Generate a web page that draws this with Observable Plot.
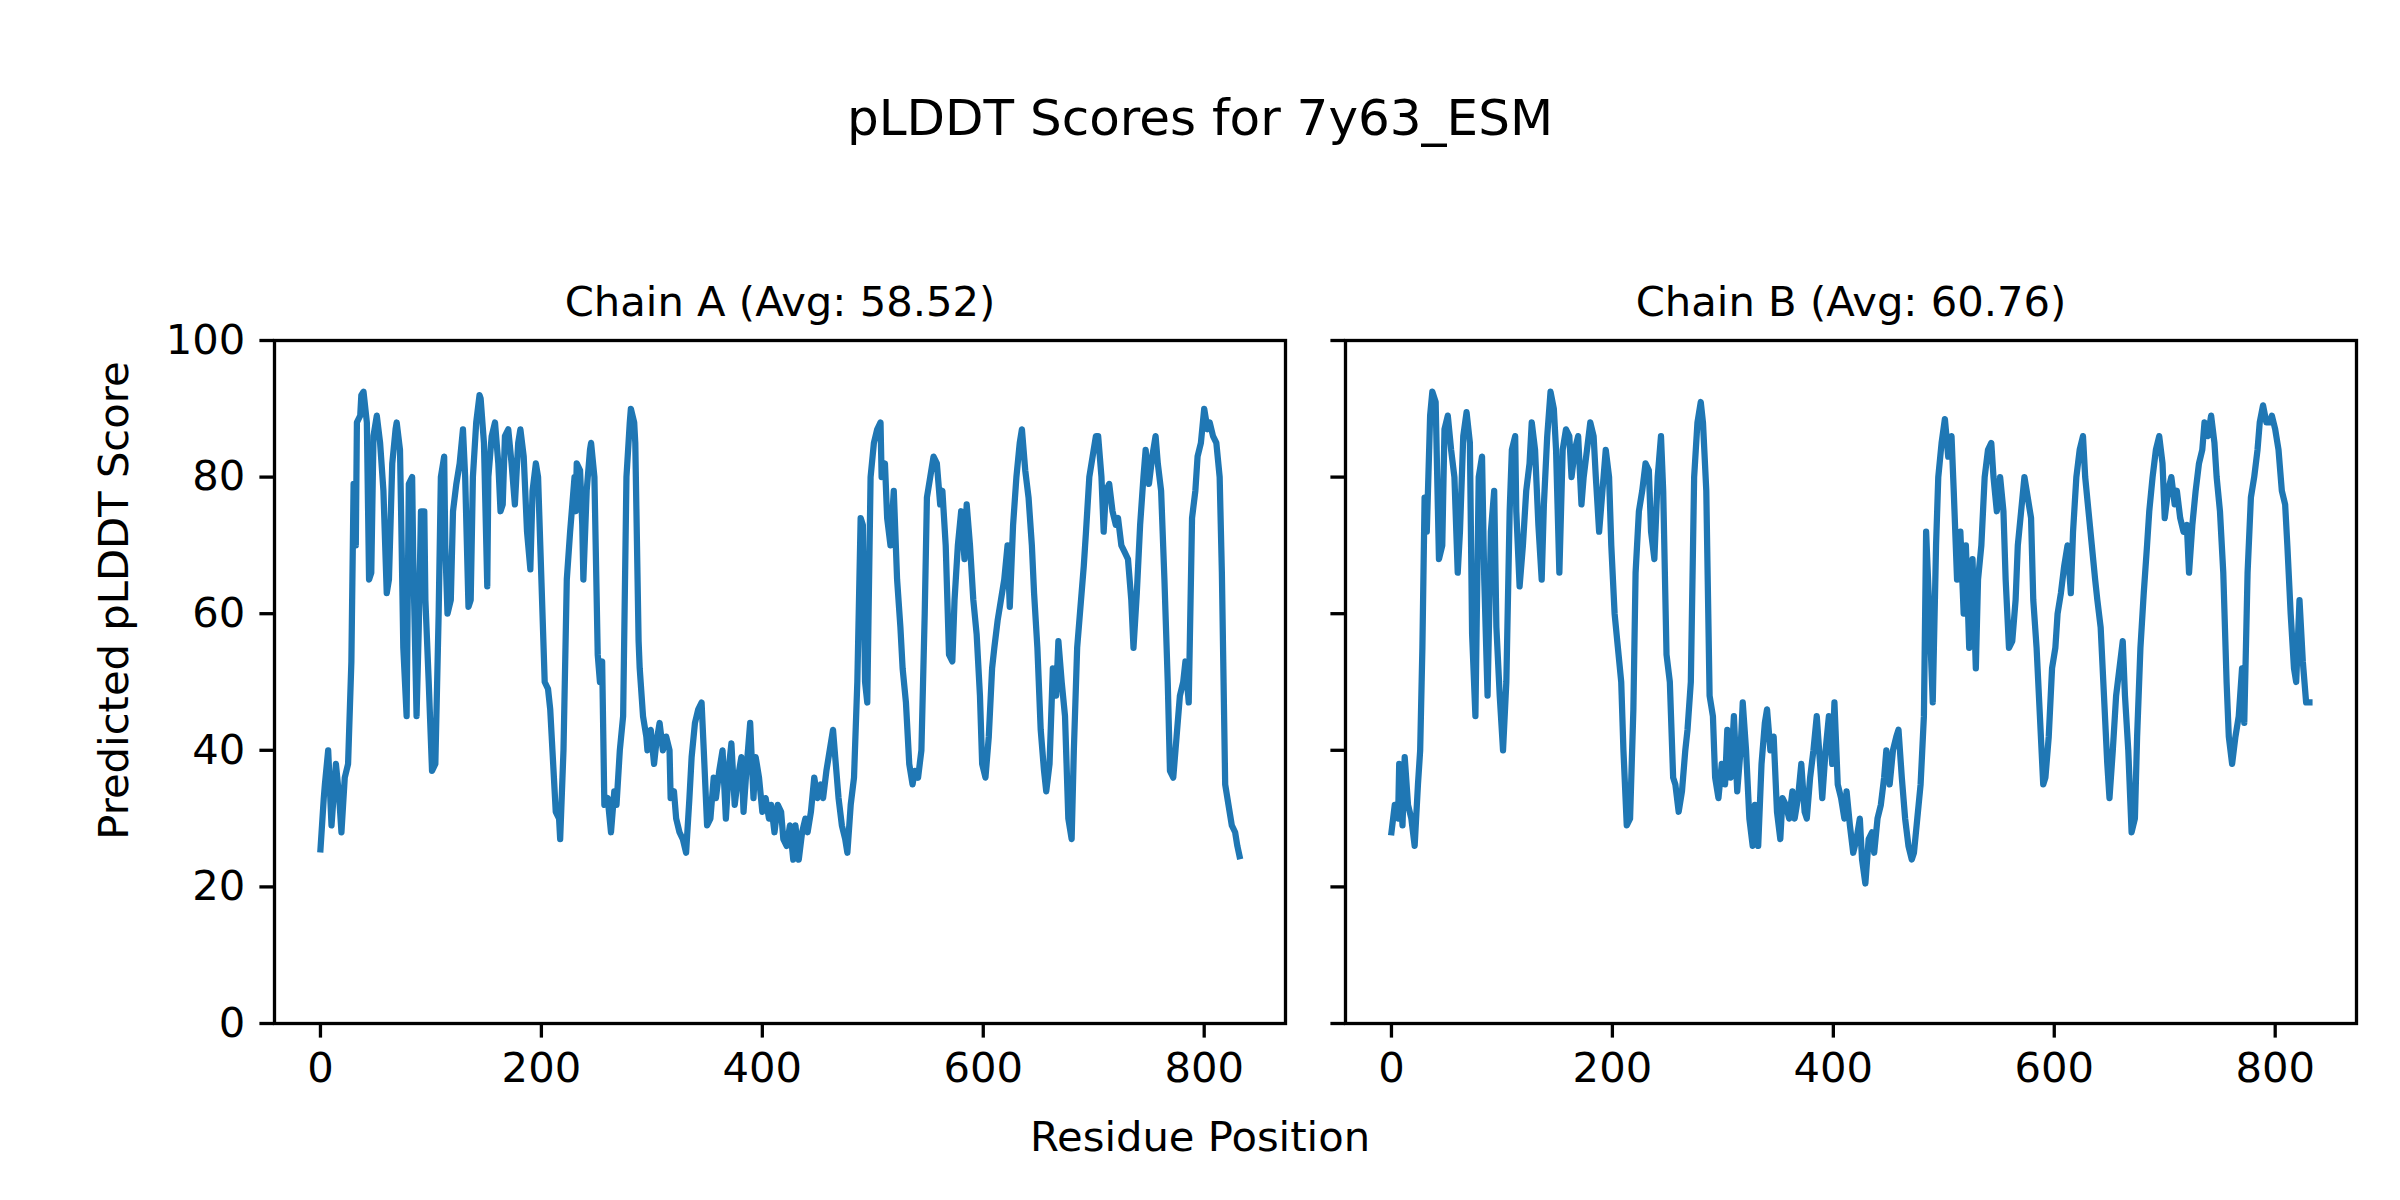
<!DOCTYPE html>
<html>
<head>
<meta charset="utf-8">
<script src="https://cdn.jsdelivr.net/npm/d3@7"></script>
<script src="https://cdn.jsdelivr.net/npm/@observablehq/plot@0.6"></script>
<style>
  html, body { margin: 0; padding: 0; background: #ffffff; }
  #fig { width: 2400px; height: 1200px; background: #ffffff; font-family: "DejaVu Sans", sans-serif; color: #000; }
  #title { height: 236px; line-height: 236px; font-size: 50px; text-align: center; }
  #row { display: flex; flex-direction: row; height: 864px; }
  #xlabel { height: 74px; line-height: 74px; font-size: 41.7px; text-align: center; }
</style>
</head>
<body>
<div id="fig">
  <div id="title">pLDDT Scores for 7y63_ESM</div>
  <div id="row"><div id="pa"></div><div id="pb"></div></div>
  <div id="xlabel">Residue Position</div>
</div>
<script>
const figTitle = "pLDDT Scores for 7y63_ESM";
const titleA = "Chain A (Avg: 58.52)";
const titleB = "Chain B (Avg: 60.76)";
const yLabel = "Predicted pLDDT Score";
const xTicks = [0, 200, 400, 600, 800];
const yTicks = [0, 20, 40, 60, 80, 100];

const residuesA = [
  0,3,4,7,10,14,17,19,22,25,
  28,30,32,33,36,37,39,42,44,46,
  48,51,54,57,60,62,65,68,69,72,
  73,75,78,80,83,84,87,89,91,94,
  95,98,101,104,107,109,112,113,115,118,
  120,123,126,129,131,134,136,138,141,144,
  145,148,151,152,155,158,161,163,165,167,
  170,173,176,179,181,184,187,190,192,195,
  197,199,202,203,206,208,210,213,216,217,
  220,223,226,228,230,231,232,235,237,238,
  241,244,245,248,251,253,255,257,260,263,
  266,268,271,274,277,280,281,284,285,288,
  289,292,295,296,299,302,304,307,310,313,
  316,317,320,322,325,328,331,334,336,339,
  342,345,347,350,353,356,358,361,364,367,
  370,372,375,378,381,383,386,389,392,394,
  397,400,403,406,408,411,414,417,419,422,
  425,428,430,433,436,439,441,444,447,450,
  453,455,458,461,464,466,469,472,475,477,
  480,483,486,489,491,493,495,498,501,504,
  507,508,511,513,516,519,522,525,527,530,
  533,536,538,541,544,547,549,552,555,558,
  561,563,566,569,572,574,577,580,583,585,
  588,591,594,597,599,602,605,608,610,613,
  616,619,622,624,627,630,633,635,638,641,
  644,646,649,652,655,657,660,663,666,668,
  671,674,677,680,682,685,688,691,693,696,
  699,702,704,707,709,711,714,717,720,722,
  725,728,731,734,736,739,742,745,747,750,
  753,756,758,761,764,767,769,772,775,778,
  781,783,786,789,792,794,797,800,803,805,
  808,811,814,816,819,822,825,828,830,832
];
const scoresA = [
  25.5,33,35,40,29,38,33,28,36,38,
  53,79,70,88,89,92,92.5,88,65,66,
  86,89,85,78,63,65,82,87,88,84,
  75,55,45,79,80,68,45,58,75,75,
  62,50,37,38,60,80,83,70,60,62,
  75,79,82,87,80,61,62,80,88,92,
  91.5,85,64,80,86,88,82,75,76,86,
  87,82,76,85,87,83,72,66.5,78,82,
  80,70,55,50,49,46,40,31,30,27,
  40,65,72,76,80,75,82,81,73,65,
  78,84,85,80,54,50,53,32,33,28,
  34,32,40,45,80,88,90,88,85,56,
  52,45,42,40,43,38,41,44,40,42,
  40,33,34,30,28,27,25,33,39,44,
  46,47,40,29,30,36,33,37,40,30,
  38,41,32,36,39,31,38,44,33,39,
  36,31,33,30,32,28,32,31,27,26,
  29,24,29,24,28,30,28,31,36,33,
  35,33,37,40,43,39,33,29,27,25,
  32,36,50,74,73,50,47,80,85,87,
  88,80,82,74,70,78,65,58,52,47,
  38,35,37,36,40,60,77,80,83,82,
  76,78,70,54,53,62,70,75,68,76,
  70,62,57,48,38,36,42,52,55,59,
  62,65,70,61,73,80,85,87,81,77,
  70,63,55,43,37,34,38,52,48,56,
  50,45,30,27,40,55,61,67,72,80,
  83,86,86,80,72,78,79,75,73,74,
  70,69,68,62,55,63,73,80,84,79,
  83,86,82,78,65,50,37,36,42,48,
  50,53,47,74,78,83,85,90,87,88,
  86,85,80,66,35,32,29,28,26,24.5
];

const residuesB = [
  0,3,6,7,10,12,15,18,21,24,
  26,28,30,32,35,37,40,43,46,48,
  51,54,57,60,62,65,68,71,73,76,
  79,82,84,87,90,93,95,98,101,104,
  107,109,112,113,116,119,122,125,127,130,
  133,136,138,141,144,147,149,152,155,158,
  161,163,166,169,172,174,177,180,183,185,
  188,191,194,197,199,202,205,208,210,213,
  216,219,221,224,227,230,233,235,238,241,
  244,246,249,252,255,257,260,263,266,268,
  271,274,277,280,282,285,288,291,293,296,
  299,302,304,307,310,313,316,318,321,324,
  327,329,332,335,338,340,343,346,349,352,
  354,357,360,363,365,368,371,374,376,379,
  382,385,388,390,393,396,399,401,404,407,
  410,412,415,418,421,424,426,429,432,435,
  437,440,443,446,448,451,454,457,459,462,
  465,468,471,473,476,479,482,484,487,490,
  493,495,498,501,504,507,509,512,515,518,
  520,523,526,529,531,534,537,540,543,545,
  548,551,554,556,559,562,565,567,570,573,
  576,579,581,584,587,590,592,595,598,601,
  603,606,609,612,615,617,620,623,626,628,
  631,634,637,639,642,645,648,650,653,656,
  659,662,664,667,670,673,675,678,681,684,
  686,689,692,695,698,700,703,706,709,711,
  714,717,720,722,725,728,731,734,736,739,
  742,745,747,750,753,756,758,761,764,767,
  770,772,775,778,781,784,786,789,792,795,
  797,800,803,806,809,811,814,817,819,822,
  825,828,831
];
const scoresB = [
  28,32,30,38,29,39,32,30,26,35,
  40,55,77,72,89,92.5,91,68,70,87,
  89,84,80,66,72,86,89.5,85,57,45,
  80,83,65,48,72,78,58,48,40,50,
  75,84,86,75,64,70,78,82,88,84,
  73,65,76,86,92.5,90,84,66,84,87,
  86,80,84,86,76,80,84,88,86,80,
  72,78,84,80,70,60,55,50,40,29,
  30,46,66,75,78,82,81,72,68,80,
  86,78,54,50,36,35,31,34,40,43,
  50,80,88,91,88,78,48,45,36,33,
  38,35,43,36,45,34,40,47,40,30,
  26,32,26,38,44,46,40,42,31,27,
  33,32,30,34,30,33,38,31,30,36,
  40,45,38,33,40,45,38,47,35,33,
  30,34,29,25,27,30,24,20.5,27,28,
  25,30,32,36,40,35,40,42,43,36,
  30,26,24,25,30,35,45,72,60,47,
  70,80,85,88.5,83,86,78,65,72,60,
  70,55,68,52,65,70,80,84,85,80,
  75,80,75,65,55,56,62,70,75,80,
  77,74,62,55,45,35,36,42,52,55,
  60,63,67,70,63,72,80,84,86,80,
  75,70,65,62,58,48,38,33,40,48,
  52,56,48,40,28,30,42,55,63,70,
  75,80,84,86,82,74,78,80,76,78,
  74,72,73,66,73,78,82,84,88,86,
  89,85,80,75,66,50,42,38,42,45,
  52,44,66,77,80,84,88,90.5,88,88,
  89,87,84,78,76,70,60,52,50,62,
  53,47,47
];

function rows(res, sc) {
  const n = Math.min(res.length, sc.length);
  return d3.range(n).map(i => ({res: res[i], score: sc[i]}));
}

const FS = 41.7;
const TICK = 14.6;
const lineColor = "#1f77b4";

function panel(data, title, isLeft) {
  const marks = [
    Plot.line(data, {x: "res", y: "score", stroke: lineColor, strokeWidth: 6.25, strokeLinejoin: "round", strokeLinecap: "square"}),
    Plot.frame({stroke: "black", strokeWidth: 3.3}),
    Plot.axisX({ticks: xTicks, tickSize: TICK, tickPadding: TICK, fontSize: FS, strokeWidth: 3.3, label: null, tickFormat: d3.format("d")}),
    Plot.axisY(isLeft
      ? {ticks: yTicks, tickSize: TICK, tickPadding: TICK, fontSize: FS, strokeWidth: 3.3, label: null, tickFormat: d3.format("d")}
      : {ticks: yTicks, tickSize: TICK, tickPadding: TICK, fontSize: FS, strokeWidth: 3.3, label: null, tickFormat: () => ""}),
    Plot.text([title], {text: d => d, frameAnchor: "top", dy: -25, lineAnchor: "bottom", fontSize: FS, fill: "black"})
  ];
  if (isLeft) {
    // figure-level y label, centred on the figure height (y = 600 of 1200)
    marks.push(Plot.text([yLabel], {text: d => d, frameAnchor: "left", rotate: -90, dx: -160, dy: -81.5, lineAnchor: "middle", textAnchor: "middle", fontSize: FS, fill: "black"}));
  }
  return Plot.plot({
    width: isLeft ? 1315 : 1085,
    height: 864,
    marginLeft: isLeft ? 274 : 30,
    marginRight: isLeft ? 30 : 44,
    marginTop: 104,
    marginBottom: 77,
    x: {domain: [-41.6, 873.6], axis: null},
    y: {domain: [0, 100], axis: null},
    style: {background: "white", color: "black", fontFamily: "DejaVu Sans", overflow: "visible"},
    marks
  });
}

document.getElementById("pa").appendChild(panel(rows(residuesA, scoresA), titleA, true));
document.getElementById("pb").appendChild(panel(rows(residuesB, scoresB), titleB, false));
</script>
</body>
</html>
